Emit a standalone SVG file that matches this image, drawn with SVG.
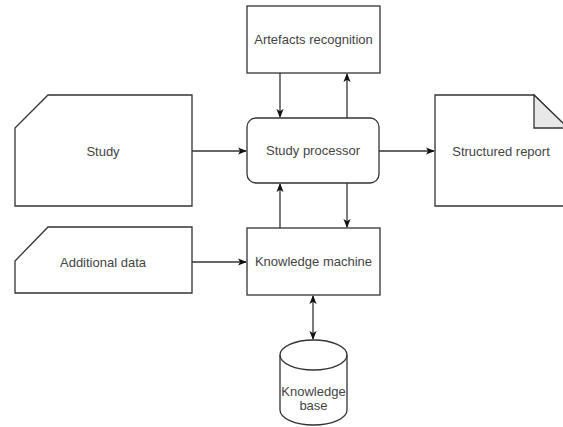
<svg xmlns="http://www.w3.org/2000/svg" width="563" height="427" viewBox="0 0 563 427">
<defs>
<style>
.shape{fill:#fff;stroke:#333;stroke-width:1.3}
.fold{fill:#e8e8e8;stroke:#333;stroke-width:1.3}
.conn{fill:none;stroke:#333;stroke-width:1.3}
.lbl{font-family:"Liberation Sans",Arial,sans-serif;font-size:13px;fill:#444;text-anchor:middle}
</style>
<marker id="ah" viewBox="0 0 10 10" refX="9" refY="5" markerWidth="9" markerHeight="9" markerUnits="userSpaceOnUse" orient="auto-start-reverse">
<path d="M0,1 L10,5 L0,9 L2.5,5 Z" fill="#111"/>
</marker>
</defs>
<rect width="563" height="427" fill="#fff"/>
<g id="connectors">
<line class="conn" x1="192" y1="151" x2="246" y2="151" marker-end="url(#ah)"/>
<line class="conn" x1="379" y1="151" x2="434" y2="151" marker-end="url(#ah)"/>
<line class="conn" x1="192" y1="262" x2="246" y2="262" marker-end="url(#ah)"/>
<line class="conn" x1="280" y1="73" x2="280" y2="117" marker-end="url(#ah)"/>
<line class="conn" x1="347" y1="118" x2="347" y2="74" marker-end="url(#ah)"/>
<line class="conn" x1="280" y1="228" x2="280" y2="184" marker-end="url(#ah)"/>
<line class="conn" x1="347" y1="183" x2="347" y2="227" marker-end="url(#ah)"/>
<line class="conn" x1="313" y1="296" x2="313" y2="339" marker-start="url(#ah)" marker-end="url(#ah)"/>
</g>
<g id="study">
<path class="shape" d="M48,95 H192 V206 H15 V128 Z"/>
<text class="lbl" x="103" y="155.5">Study</text>
</g>
<g id="additional-data">
<path class="shape" d="M48,227 H192 V293 H15 V261 Z"/>
<text class="lbl" x="103" y="266.5">Additional data</text>
</g>
<g id="artefacts-recognition">
<rect class="shape" x="247" y="6" width="133" height="67"/>
<text class="lbl" x="313.5" y="44">Artefacts recognition</text>
</g>
<g id="study-processor">
<rect class="shape" x="247" y="118" width="132" height="65" rx="9"/>
<text class="lbl" x="313" y="155">Study processor</text>
</g>
<g id="knowledge-machine">
<rect class="shape" x="247" y="228" width="133" height="67"/>
<text class="lbl" x="313.5" y="266">Knowledge machine</text>
</g>
<g id="structured-report">
<path class="shape" d="M435,95 H534 L568,128 V206 H435 Z"/>
<path class="fold" d="M534,95 V128 H568 Z"/>
<text class="lbl" x="501" y="156">Structured report</text>
</g>
<g id="knowledge-base">
<path class="shape" d="M280,355 A33.5,15 0 0 1 347,355 V410 A33.5,15 0 0 1 280,410 Z"/>
<path class="conn" d="M280,355 A33.5,15 0 0 0 347,355"/>
<text class="lbl" x="313.5" y="396">Knowledge</text>
<text class="lbl" x="313.5" y="410">base</text>
</g>
</svg>
